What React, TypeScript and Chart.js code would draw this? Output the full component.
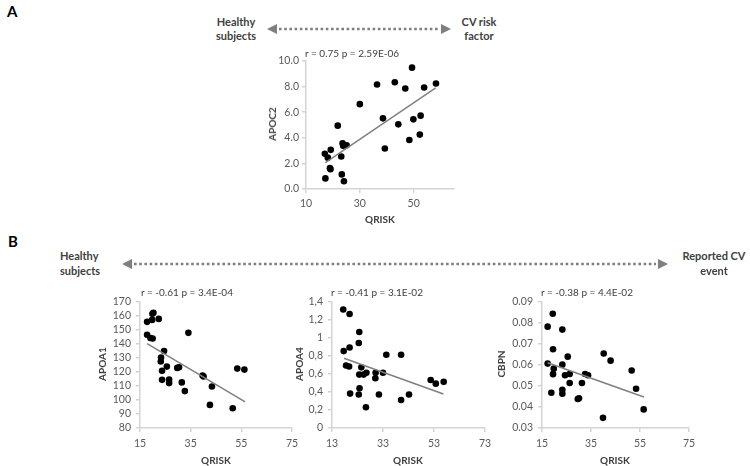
import React, { useEffect, useRef } from "react";
import { Chart, registerables } from "chart.js";
Chart.register(...registerables);

const FONT = "Lato, 'Open Sans', sans-serif";

// ---------- Panel A : APOC2 vs QRISK ----------
const apoc2Qrisk = [17.2, 17.0, 18.1, 19.2, 18.9, 19.1, 21.8, 23.1, 23.3, 24.1, 23.6, 23.8, 25.1, 30.0, 36.4, 38.6, 39.3, 43.0, 44.3, 46.9, 48.4, 49.4, 49.9, 52.6, 52.3, 53.9, 58.3];
const apoc2Values = [0.83, 2.75, 2.45, 3.06, 1.63, 1.55, 4.95, 2.54, 1.14, 0.6, 3.58, 3.37, 3.42, 6.63, 8.16, 5.52, 3.16, 8.34, 5.05, 7.85, 3.83, 9.48, 5.44, 5.73, 4.25, 7.93, 8.24];
const apoc2TrendX = [17.2, 58.2];
const apoc2TrendY = [2.07, 7.9];
const apoc2XTicks = [10, 30, 50];
const apoc2XLabels = ["10", "30", "50"];
const apoc2YTicks = [0, 2, 4, 6, 8, 10];
const apoc2YLabels = ["0.0", "2.0", "4.0", "6.0", "8.0", "10.0"];

// ---------- Panel B1 : APOA1 ----------
const apoa1Qrisk = [17.8, 19.9, 20.3, 19.8, 22.4, 17.8, 19.1, 20.0, 34.1, 24.5, 23.3, 23.2, 25.6, 23.7, 23.7, 26.5, 26.5, 29.7, 30.4, 31.5, 32.7, 39.7, 40.1, 43.4, 42.6, 53.4, 56.2, 51.6];
const apoa1Values = [155.4, 161.1, 161.8, 156.8, 157.5, 146.2, 143.9, 143.6, 147.6, 134.7, 130.0, 127.2, 123.6, 120.6, 114.2, 114.5, 111.9, 122.7, 123.2, 112.4, 106.2, 117.3, 116.6, 109.5, 96.4, 122.2, 121.5, 94.0];
const apoa1TrendX = [17.8, 56.5];
const apoa1TrendY = [140, 98.5];
const apoa1XTicks = [15, 35, 55, 75];
const apoa1XLabels = ["15", "35", "55", "75"];
const apoa1YTicks = [80, 90, 100, 110, 120, 130, 140, 150, 160, 170];
const apoa1YLabels = ["80", "90", "100", "110", "120", "130", "140", "150", "160", "170"];

// ---------- Panel B2 : APOA4 ----------
const apoa4Qrisk = [17.4, 19.9, 17.6, 19.9, 23.7, 23.5, 18.5, 19.7, 24.5, 23.7, 25.4, 26.5, 20.1, 23.5, 23.8, 26.3, 30.1, 30.0, 33.0, 34.3, 31.4, 40.1, 40.1, 43.2, 51.7, 53.7, 56.8];
const apoa4Values = [1.31, 1.26, 0.85, 0.89, 1.06, 0.94, 0.69, 0.68, 0.67, 0.59, 0.59, 0.61, 0.38, 0.37, 0.44, 0.23, 0.61, 0.55, 0.61, 0.81, 0.37, 0.81, 0.31, 0.37, 0.53, 0.49, 0.51];
const apoa4TrendX = [17.7, 56.7];
const apoa4TrendY = [0.77, 0.376];
const apoa4XTicks = [13, 33, 53, 73];
const apoa4XLabels = ["13", "33", "53", "73"];
const apoa4YTicks = [0, 0.2, 0.4, 0.6, 0.8, 1.0, 1.2, 1.4];
const apoa4YLabels = ["0", "0,2", "0,4", "0,6", "0,8", "1", "1,2", "1,4"];

// ---------- Panel B3 : CBPN ----------
const cbpnQrisk = [17.3, 19.4, 23.3, 19.5, 17.3, 19.8, 19.5, 18.8, 23.3, 25.5, 24.4, 26.3, 26.3, 23.3, 23.3, 29.6, 30.1, 31.3, 32.6, 33.8, 40.2, 43.0, 51.6, 53.4, 56.5, 39.9];
const cbpnValues = [0.078, 0.0841, 0.0766, 0.0673, 0.0605, 0.0581, 0.0555, 0.0467, 0.06, 0.0638, 0.055, 0.0556, 0.0513, 0.0481, 0.0462, 0.0437, 0.0441, 0.0513, 0.0556, 0.055, 0.0653, 0.0619, 0.0572, 0.0486, 0.0388, 0.0348];
const cbpnTrendX = [17.3, 56.6];
const cbpnTrendY = [0.0609, 0.0447];
const cbpnXTicks = [15, 35, 55, 75];
const cbpnXLabels = ["15", "35", "55", "75"];
const cbpnYTicks = [0.03, 0.04, 0.05, 0.06, 0.07, 0.08, 0.09];
const cbpnYLabels = ["0.03", "0.04", "0.05", "0.06", "0.07", "0.08", "0.09"];

const AXIS_COLOR = "#d4d4d4";
const TICK_TEXT = "#595959";

type Area = { l: number; r: number; t: number; b: number };

type PanelProps = {
  xs: number[]; ys: number[];
  tx: number[]; ty: number[];
  xMin: number; xMax: number; xTicks: number[]; xLabels: string[];
  yMin: number; yMax: number; yTicks: number[]; yLabels: string[];
  area: Area; yGap: number; xGap: number;
};

const WY = 50, HX = 30, PT = 10, PR = 16;

function Panel(p: PanelProps) {
  const ref = useRef<HTMLCanvasElement | null>(null);
  const w = WY + (p.area.r - p.area.l) + PR;
  const h = PT + (p.area.b - p.area.t) + HX;
  useEffect(() => {
    if (!ref.current) return;
    const chart = new Chart(ref.current, {
      type: "scatter",
      data: {
        datasets: [
          {
            data: p.tx.map((x, i) => ({ x, y: p.ty[i] })),
            showLine: true,
            borderColor: "#808080",
            borderWidth: 1.5,
            pointRadius: 0,
            order: 0,
          } as any,
          {
            data: p.xs.map((x, i) => ({ x, y: p.ys[i] })),
            backgroundColor: "#000",
            borderColor: "#000",
            borderWidth: 0,
            pointRadius: 3.3,
            pointHoverRadius: 3.3,
            order: 1,
          },
        ],
      },
      options: {
        animation: false,
        responsive: false,
        devicePixelRatio: 1,
        events: [],
        layout: { padding: { top: PT, right: PR, left: 0, bottom: 0 } },
        plugins: { legend: { display: false }, tooltip: { enabled: false } },
        scales: {
          x: {
            type: "linear",
            min: p.xMin,
            max: p.xMax,
            afterBuildTicks: (s: any) => { s.ticks = p.xTicks.map((v) => ({ value: v })); },
            afterFit: (s: any) => { s.height = HX; },
            ticks: {
              callback: (_v: any, i: number) => p.xLabels[i] ?? "",
              font: { family: FONT, size: 10.5 },
              color: TICK_TEXT,
              padding: p.xGap,
              maxRotation: 0,
              autoSkip: false,
            },
            grid: { display: true, drawOnChartArea: false, drawTicks: true, tickLength: 4, color: AXIS_COLOR, lineWidth: 1.5 },
            border: { display: true, color: AXIS_COLOR, width: 1.5 },
          },
          y: {
            type: "linear",
            min: p.yMin,
            max: p.yMax,
            afterBuildTicks: (s: any) => { s.ticks = p.yTicks.map((v) => ({ value: v })); },
            afterFit: (s: any) => { s.width = WY; },
            ticks: {
              callback: (_v: any, i: number) => p.yLabels[i] ?? "",
              font: { family: FONT, size: 10.5 },
              color: TICK_TEXT,
              padding: p.yGap,
              autoSkip: false,
            },
            grid: { display: true, drawOnChartArea: false, drawTicks: true, tickLength: 4, color: AXIS_COLOR, lineWidth: 1.5 },
            border: { display: true, color: AXIS_COLOR, width: 1.5 },
          },
        },
      } as any,
    });
    return () => chart.destroy();
  }, []);
  return (
    <canvas
      ref={ref}
      width={w}
      height={h}
      style={{ position: "absolute", left: p.area.l - WY, top: p.area.t - PT, width: w, height: h }}
    />
  );
}

function T(props: { x: number; y: number; children: React.ReactNode; size?: number; bold?: boolean; color?: string; rot?: boolean; align?: "left" | "center" }) {
  const { x, y, size = 10, bold = false, color = "#404040", rot = false, align = "center" } = props;
  const tr = align === "left" ? "translate(0,-50%)" : "translate(-50%,-50%)";
  return (
    <div
      style={{
        position: "absolute", left: x, top: y, whiteSpace: "nowrap",
        transform: tr + (rot ? " rotate(-90deg)" : ""),
        fontFamily: FONT, fontSize: size, fontWeight: bold ? 700 : 400, color, lineHeight: 1,
      }}
    >
      {props.children}
    </div>
  );
}

function Arrow({ x1, x2, y }: { x1: number; x2: number; y: number }) {
  const head = 10;
  return (
    <svg style={{ position: "absolute", left: 0, top: 0 }} width={750} height={466}>
      <line x1={x1 + head + 2} y1={y} x2={x2 - head - 2} y2={y} stroke="#7f7f7f" strokeWidth={2.6} strokeDasharray="2.6 2.6" />
      <polygon points={`${x1},${y} ${x1 + head},${y - 5} ${x1 + head},${y + 5}`} fill="#7f7f7f" />
      <polygon points={`${x2},${y} ${x2 - head},${y - 5} ${x2 - head},${y + 5}`} fill="#7f7f7f" />
    </svg>
  );
}

export default function App() {
  const A: Area = { l: 306, r: 454, t: 61, b: 189 };
  const B1: Area = { l: 140, r: 292, t: 300, b: 428 };
  const B2: Area = { l: 332, r: 485, t: 300, b: 428 };
  const B3: Area = { l: 542, r: 689, t: 300, b: 428 };
  return (
    <div style={{ position: "absolute", left: 0, top: 0, width: 750, height: 466, background: "#fff", overflow: "hidden" }}>
      <Arrow x1={267} x2={451} y={29} />
      <Arrow x1={122} x2={668} y={264} />

      <Panel xs={apoc2Qrisk} ys={apoc2Values} tx={apoc2TrendX} ty={apoc2TrendY}
        xMin={10} xMax={65} xTicks={apoc2XTicks} xLabels={apoc2XLabels}
        yMin={0} yMax={10} yTicks={apoc2YTicks} yLabels={apoc2YLabels} area={A} yGap={3} xGap={4} />
      <Panel xs={apoa1Qrisk} ys={apoa1Values} tx={apoa1TrendX} ty={apoa1TrendY}
        xMin={15} xMax={75} xTicks={apoa1XTicks} xLabels={apoa1XLabels}
        yMin={80} yMax={170} yTicks={apoa1YTicks} yLabels={apoa1YLabels} area={B1} yGap={5} xGap={5} />
      <Panel xs={apoa4Qrisk} ys={apoa4Values} tx={apoa4TrendX} ty={apoa4TrendY}
        xMin={13} xMax={73} xTicks={apoa4XTicks} xLabels={apoa4XLabels}
        yMin={0} yMax={1.4} yTicks={apoa4YTicks} yLabels={apoa4YLabels} area={B2} yGap={5} xGap={5} />
      <Panel xs={cbpnQrisk} ys={cbpnValues} tx={cbpnTrendX} ty={cbpnTrendY}
        xMin={15} xMax={75} xTicks={cbpnXTicks} xLabels={cbpnXLabels}
        yMin={0.03} yMax={0.09} yTicks={cbpnYTicks} yLabels={cbpnYLabels} area={B3} yGap={5} xGap={5} />

      {/* Panel A texts */}
      <T x={7} y={11} size={15} bold color="#000" align="left">A</T>
      <T x={236} y={21} size={11} bold>Healthy</T>
      <T x={236} y={35} size={11} bold>subjects</T>
      <T x={479} y={21} size={11} bold>CV risk</T>
      <T x={479} y={35} size={11} bold>factor</T>
      <T x={305} y={53} size={10} align="left">r = 0.75 p = 2.59E-06</T>
      <T x={272} y={124} size={10} bold rot>APOC2</T>
      <T x={380} y={219} size={10} bold>QRISK</T>

      {/* Panel B texts */}
      <T x={8} y={241} size={15} bold color="#000" align="left">B</T>
      <T x={60} y={255} size={11} bold align="left">Healthy</T>
      <T x={60} y={270} size={11} bold align="left">subjects</T>
      <T x={714} y={255} size={11} bold>Reported CV</T>
      <T x={714} y={270} size={11} bold>event</T>

      <T x={141} y={292} size={10} align="left">r = -0.61 p = 3.4E-04</T>
      <T x={102} y={364} size={10} bold rot>APOA1</T>
      <T x={216} y={460} size={10} bold>QRISK</T>

      <T x={331} y={292} size={10} align="left">r = -0.41 p = 3.1E-02</T>
      <T x={299} y={364} size={10} bold rot>APOA4</T>
      <T x={408} y={460} size={10} bold>QRISK</T>

      <T x={541} y={292} size={10} align="left">r = -0.38 p = 4.4E-02</T>
      <T x={501} y={364} size={10} bold rot>CBPN</T>
      <T x={615} y={460} size={10} bold>QRISK</T>
    </div>
  );
}
